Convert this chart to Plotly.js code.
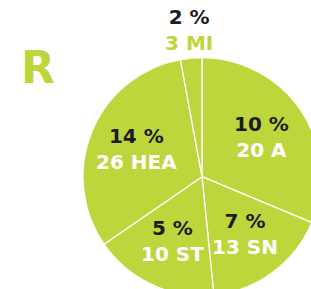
<!DOCTYPE html>
<html>
<head>
<meta charset="utf-8">
<script src="https://cdn.plot.ly/plotly-3.0.1.min.js"></script>
<style>
html,body{margin:0;padding:0;overflow:hidden;background:#fff;width:311px;height:289px;}
#chart{width:330px;height:300px;}
</style>
</head>
<body>
<div id="chart"></div>
<script>
// Categories (clockwise from 12 o'clock)
var categories = ['A', 'SN', 'ST', 'HEA', 'MI'];
// Counts shown on the labels
var counts = [20, 13, 10, 26, 3];
// Percentages shown on the labels
var percents = [10, 7, 5, 14, 2];
// Slice sizes as drawn in the picture (share of the circle, %)
var sliceShares = [31.3, 17.1, 17.0, 31.7, 2.9];

var LIME = '#bdd63b';
var DARK = '#1c1c1c';

var W = 330, H = 300;
var cx = 202, cy = 176.7, r = 119;

var trace = {
  type: 'pie',
  values: sliceShares,
  labels: categories,
  textinfo: 'none',
  hoverinfo: 'none',
  sort: false,
  direction: 'clockwise',
  rotation: 0,
  marker: { colors: categories.map(function(){ return LIME; }), line: { color: '#ffffff', width: 1.3 } },
  domain: { x: [(cx - r) / W, (cx + r) / W], y: [1 - (cy + r) / H, 1 - (cy - r) / H] },
  showlegend: false
};

// Label placement derived from slice geometry: on each slice's bisector
var total = sliceShares.reduce(function(a, b){ return a + b; }, 0);
var cum = 0;
var annotations = categories.map(function(c, i) {
  var mid = (cum + sliceShares[i] / 2) / total * 2 * Math.PI;
  cum += sliceShares[i];
  var small = sliceShares[i] / total < 0.05;
  var k = small ? 1.235 : 0.6;
  var px = cx + k * r * Math.sin(mid);
  var py = cy - k * r * Math.cos(mid);
  var secondColor = small ? LIME : '#ffffff';
  return {
    xref: 'paper', yref: 'paper',
    x: px / W, y: 1 - py / H,
    xanchor: 'center', yanchor: 'middle',
    showarrow: false,
    align: 'center',
    text: "<span style='color:" + DARK + "'>" + percents[i] + " %</span><br><span style='color:" + secondColor + "'>" + counts[i] + ' ' + c + '</span>',
    font: { family: 'DejaVu Sans', size: 20, color: '#ffffff', weight: 'bold' }
  };
});

var layout = {
  width: W, height: H,
  margin: { l: 0, r: 0, t: 0, b: 0 },
  paper_bgcolor: '#ffffff',
  showlegend: false,
  annotations: annotations,
  title: {
    text: 'R',
    font: { family: 'DejaVu Sans', size: 44, color: LIME, weight: 'bold' },
    x: 21 / W, xanchor: 'left', xref: 'container',
    y: 1 - 67.5 / H, yanchor: 'middle', yref: 'container'
  }
};

Plotly.newPlot('chart', [trace], layout, { staticPlot: true, displayModeBar: false });
</script>
</body>
</html>
